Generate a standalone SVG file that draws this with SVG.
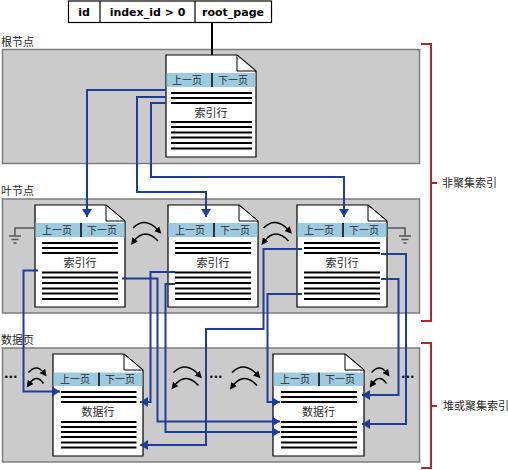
<svg xmlns="http://www.w3.org/2000/svg" width="508" height="470" viewBox="0 0 508 470">
<style>
.band{fill:#cbcbcb;stroke:#7d7d7d;stroke-width:1.5}
.pg{fill:#fff;stroke:#000;stroke-width:1.2}
.fold{fill:#fff;stroke:#000;stroke-width:1}
.hdr{fill:#9ccbe0}
.dv{stroke:#000;stroke-width:1.5}
.rows{stroke:#000;stroke-width:2;fill:none}
.cjk{font-family:"Noto Sans CJK SC","Noto Sans",sans-serif;fill:#2a2a2a}
.pn{font-size:10px;text-anchor:middle}
.lbl{font-size:11px;text-anchor:middle}
.sec{font-size:11px}
.th{font-family:"DejaVu Sans",Verdana,sans-serif;font-weight:bold;font-size:11px;text-anchor:middle;fill:#000}
.conn{fill:none;stroke:#1f3d99;stroke-width:2;marker-end:url(#ab)}
.swap{fill:none;stroke:#000;stroke-width:1.5;marker-end:url(#ak)}
.gnd{stroke:#555;stroke-width:1.5;fill:none}
.brk{stroke:#b3262b;stroke-width:2;fill:none}
.dots{font-family:"DejaVu Sans",sans-serif;font-weight:bold;font-size:12px;fill:#000}
</style>
<defs>
<marker id="ab" markerUnits="userSpaceOnUse" markerWidth="10" markerHeight="10" refX="8" refY="5" orient="auto">
<path d="M0,0L8,5L0,10Z" fill="#1f3d99"/>
</marker>
<marker id="ak" markerUnits="userSpaceOnUse" markerWidth="8" markerHeight="8" refX="2" refY="3.5" orient="auto">
<path d="M0,0L7,3.5L0,7Z" fill="#000"/>
</marker>
<g id="swapBig">
<path class="swap" d="M2,6Q14,-6 27,8"/>
<path class="swap" d="M27,19Q14,5 3,19"/>
</g>
<g id="swapSmall">
<path class="swap" d="M2,5Q10,-4 17,5"/>
<path class="swap" d="M17,16Q10,6 3,16"/>
</g>
</defs>

<g id="bands">
<rect class="band" x="2.5" y="49.5" width="417" height="114"/>
<rect class="band" x="2.5" y="199" width="417" height="114"/>
<rect class="band" x="2.5" y="348" width="417" height="114"/>
<text class="cjk sec" x="1" y="45.5">根节点</text>
<text class="cjk sec" x="1" y="195">叶节点</text>
<text class="cjk sec" x="1" y="344">数据页</text>
</g>

<g id="header">
<rect x="68.5" y="1" width="203" height="21.5" fill="#fff" stroke="#000" stroke-width="1.2"/>
<line x1="100" y1="1" x2="100" y2="22.5" stroke="#000" stroke-width="1.2"/>
<line x1="195" y1="1" x2="195" y2="22.5" stroke="#000" stroke-width="1.2"/>
<text class="th" x="84" y="16">id</text>
<text class="th" x="147.5" y="16">index_id &gt; 0</text>
<text class="th" x="233" y="16">root_page</text>
<line x1="212" y1="22.5" x2="212" y2="55" stroke="#000" stroke-width="2"/>
</g>

<g id="root" transform="translate(166,55)">
<path class="pg" d="M0,0H71L90,16V102H0Z"/>
<path class="fold" d="M71,0V16H90Z"/>
<rect class="hdr" x="0.6" y="18" width="88.8" height="14"/>
<line class="dv" x1="46" y1="18" x2="46" y2="32"/>
<text class="cjk pn" x="21" y="28.8">上一页</text>
<text class="cjk pn" x="67" y="28.8">下一页</text>
<path class="rows" d="M5,38H86M5,43H86M5,48H86M5,67H86M5,72H86M5,77.5H86M5,82.5H86M5,88H86M5,93.5H86"/>
<text class="cjk lbl" x="45" y="61.7">索引行</text>
</g>

<g id="leaf1" transform="translate(35,205)">
<path class="pg" d="M0,0H71L90,16V102H0Z"/>
<path class="fold" d="M71,0V16H90Z"/>
<rect class="hdr" x="0.6" y="18" width="88.8" height="14"/>
<line class="dv" x1="46" y1="18" x2="46" y2="32"/>
<text class="cjk pn" x="22" y="28.8">上一页</text>
<text class="cjk pn" x="67" y="28.8">下一页</text>
<path class="rows" d="M7,38H83M7,43H83M7,48H83M7,67.5H83M7,72.5H83M7,78H83M7,83.5H83M7,88.5H83M7,94H83"/>
<text class="cjk lbl" x="45" y="61.5">索引行</text>
</g>

<g id="leaf2" transform="translate(168,205)">
<path class="pg" d="M0,0H71L90,16V102H0Z"/>
<path class="fold" d="M71,0V16H90Z"/>
<rect class="hdr" x="0.6" y="18" width="88.8" height="14"/>
<line class="dv" x1="46" y1="18" x2="46" y2="32"/>
<text class="cjk pn" x="22" y="28.8">上一页</text>
<text class="cjk pn" x="67" y="28.8">下一页</text>
<path class="rows" d="M7,38H83M7,43H83M7,48H83M7,67.5H83M7,72.5H83M7,78H83M7,83.5H83M7,88.5H83M7,94H83"/>
<text class="cjk lbl" x="45" y="61.5">索引行</text>
</g>

<g id="leaf3" transform="translate(297,205)">
<path class="pg" d="M0,0H71L90,16V102H0Z"/>
<path class="fold" d="M71,0V16H90Z"/>
<rect class="hdr" x="0.6" y="18" width="88.8" height="14"/>
<line class="dv" x1="46" y1="18" x2="46" y2="32"/>
<text class="cjk pn" x="22" y="28.8">上一页</text>
<text class="cjk pn" x="67" y="28.8">下一页</text>
<path class="rows" d="M7,38H83M7,43H83M7,48H83M7,67.5H83M7,72.5H83M7,78H83M7,83.5H83M7,88.5H83M7,94H83"/>
<text class="cjk lbl" x="45" y="61.5">索引行</text>
</g>

<g id="data1" transform="translate(53,354)">
<path class="pg" d="M0,0H71L90,16V102H0Z"/>
<path class="fold" d="M71,0V16H90Z"/>
<rect class="hdr" x="0.6" y="18.5" width="88.8" height="13.5"/>
<line class="dv" x1="46" y1="18.5" x2="46" y2="32"/>
<text class="cjk pn" x="22" y="29">上一页</text>
<text class="cjk pn" x="67" y="29">下一页</text>
<path class="rows" d="M8,38H83.5M8,43H83.5M8,48H83.5M8,68H83.5M8,73H83.5M8,78H83.5M8,83H83.5M8,88.5H83.5M8,93.5H83.5"/>
<text class="cjk lbl" x="45" y="61.8">数据行</text>
</g>

<g id="data2" transform="translate(273,354)">
<path class="pg" d="M0,0H72L91,16V102H0Z"/>
<path class="fold" d="M72,0V16H91Z"/>
<rect class="hdr" x="0.6" y="18.5" width="89.8" height="13.5"/>
<line class="dv" x1="46" y1="18.5" x2="46" y2="32"/>
<text class="cjk pn" x="22" y="29">上一页</text>
<text class="cjk pn" x="67" y="29">下一页</text>
<path class="rows" d="M8,38H84M8,43H84M8,48H84M8,68H84M8,73H84M8,78H84M8,83H84M8,88.5H84M8,93.5H84"/>
<text class="cjk lbl" x="45.5" y="61.8">数据行</text>
</g>

<g id="grounds">
<path class="gnd" d="M35,228H15V236M9,236H21M11.5,239.5H18.5M13.5,243H16.5"/>
<path class="gnd" d="M387,228H405V236M399,236H411M401.5,239.5H408.5M403.5,243H406.5"/>
</g>

<g id="page-links">
<use href="#swapBig" transform="translate(131,222)"/>
<use href="#swapBig" transform="translate(261.5,222)"/>
<use href="#swapSmall" transform="translate(26.5,367.5)"/>
<use href="#swapBig" transform="translate(171.5,366.5)"/>
<use href="#swapBig" transform="translate(230,366.5)"/>
<use href="#swapSmall" transform="translate(369.5,367.5)"/>
<text class="dots" x="4" y="378">...</text>
<text class="dots" x="209" y="378">...</text>
<text class="dots" x="401" y="378">...</text>
</g>

<g id="connectors">
<path class="conn" d="M166,90H87V217"/>
<path class="conn" d="M166,97H137V192H206V217"/>
<path class="conn" d="M166,103H151V177H344V217"/>
<path class="conn" d="M38,270.5H23.5V391.5H60"/>
<path class="conn" d="M122,278.5H157.5V421.5H280"/>
<path class="conn" d="M175,272H150.5V402H140"/>
<path class="conn" d="M175,284H165.5V432H280"/>
<path class="conn" d="M302,249H263.5V329H206V445H140"/>
<path class="conn" d="M302,294H267.5V402H280"/>
<path class="conn" d="M381,254H406V424H362"/>
<path class="conn" d="M381,279H398.5V395H362"/>
</g>

<g id="brackets">
<path class="brk" d="M421,44H431V321H421M431,183H437"/>
<text class="cjk sec" x="442" y="187">非聚集索引</text>
<path class="brk" d="M421,343H431V468H421M431,406H437"/>
<text class="cjk sec" x="443" y="410">堆或聚集索引</text>
</g>
</svg>
